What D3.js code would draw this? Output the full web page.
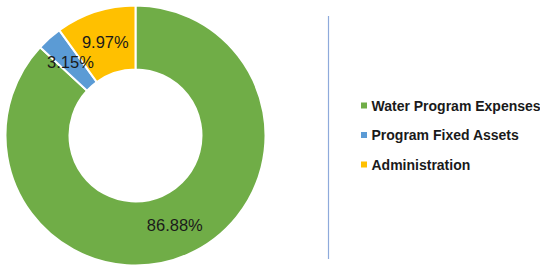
<!DOCTYPE html>
<html><head><meta charset="utf-8">
<script src="https://cdn.jsdelivr.net/npm/d3@7"></script>
<style>html,body{margin:0;padding:0;background:#fff;}</style>
</head><body>
<svg id="chart" width="540" height="265"></svg>
<script>
const categories = ["Water Program Expenses", "Program Fixed Assets", "Administration"];
const values = [86.88, 3.15, 9.97];
const labels = ["86.88%", "3.15%", "9.97%"];
const colors = ["#70ad47", "#5b9bd5", "#ffc000"];

const svg = d3.select("#chart");
const cx = 135.5, cy = 135.5, outerR = 130, innerR = 66;
const pie = d3.pie().sort(null).value(d => d)(values);
const arc = d3.arc().innerRadius(innerR).outerRadius(outerR);
const labelArc = d3.arc().innerRadius(98).outerRadius(98);

const g = svg.append("g").attr("transform", `translate(${cx},${cy})`);
g.selectAll("path").data(pie).join("path")
  .attr("d", arc)
  .attr("fill", (d, i) => colors[i])
  .attr("stroke", "#fff").attr("stroke-width", 2);

g.selectAll("text").data(pie).join("text")
  .attr("transform", d => `translate(${labelArc.centroid(d)})`)
  .attr("text-anchor", "middle").attr("dy", "0.36em")
  .attr("font-family", "Liberation Sans, Arial, sans-serif")
  .attr("font-size", 16.5).attr("fill", "#1a1a1a")
  .text((d, i) => labels[i]);

svg.append("line").attr("x1", 328.5).attr("x2", 328.5).attr("y1", 16).attr("y2", 259)
  .attr("stroke", "#8eaadb").attr("stroke-width", 1.2);

const y = d3.scalePoint().domain(categories).range([105.5, 164.5]);
const leg = svg.append("g").selectAll("g").data(categories).join("g")
  .attr("transform", d => `translate(361,${y(d)})`);
leg.append("rect").attr("x", 0).attr("y", -3).attr("width", 6).attr("height", 6)
  .attr("fill", (d, i) => colors[i]);
leg.append("text").attr("x", 10.5).attr("dy", "0.36em")
  .attr("font-family", "Liberation Sans, Arial, sans-serif").attr("font-weight", "bold")
  .attr("font-size", 14).attr("fill", "#1a1a1a")
  .text(d => d);
</script>
</body></html>
